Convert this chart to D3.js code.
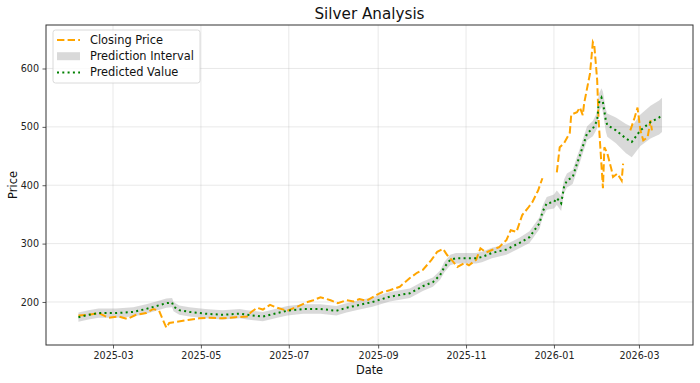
<!DOCTYPE html>
<html>
<head>
<meta charset="utf-8">
<script src="https://cdn.jsdelivr.net/npm/d3@7"></script>
<style>
  html, body { margin: 0; padding: 0; background: #fff; }
  svg { display: block; font-family: "DejaVu Sans", sans-serif; }
</style>
</head>
<body>
<svg id="chart" width="700" height="383"></svg>
<script>
// ---------- DATA ----------
const closeDates = [
  "2025-02-05","2025-02-12","2025-02-19","2025-02-26","2025-03-05","2025-03-11","2025-03-17","2025-03-24",
  "2025-03-29","2025-04-02","2025-04-04","2025-04-07","2025-04-09","2025-04-14","2025-04-22","2025-04-30",
  "2025-05-07","2025-05-16","2025-05-25","2025-06-02","2025-06-05","2025-06-09","2025-06-13","2025-06-18",
  "2025-06-23","2025-06-30","2025-07-07","2025-07-14","2025-07-18","2025-07-23","2025-07-30","2025-08-04",
  "2025-08-10","2025-08-15","2025-08-19","2025-08-24","2025-08-31","2025-09-04","2025-09-09","2025-09-16",
  "2025-09-23","2025-09-28","2025-10-02","2025-10-08","2025-10-12","2025-10-16","2025-10-19","2025-10-22",
  "2025-10-26","2025-10-31","2025-11-03","2025-11-08","2025-11-11","2025-11-15","2025-11-19","2025-11-24",
  "2025-11-29","2025-12-02","2025-12-06","2025-12-10","2025-12-14","2025-12-17","2025-12-21","2025-12-24",
  "2025-12-28",
  "2026-01-03","2026-01-05","2026-01-08","2026-01-12","2026-01-13","2026-01-17","2026-01-19","2026-01-21",
  "2026-01-22","2026-01-26","2026-01-28","2026-01-29","2026-01-31","2026-02-01","2026-02-02","2026-02-04",
  "2026-02-05","2026-02-07","2026-02-10","2026-02-11","2026-02-14","2026-02-17","2026-02-18",
  "2026-02-20",
  "2026-02-23","2026-02-26","2026-02-28","2026-03-02","2026-03-04","2026-03-07","2026-03-09","2026-03-10"
];
const closeValues = [
  177,178,181,173,175,171,178,181,
  188,185,173,156,164,166,169,172,
  173,172,174,175,183,190,187,195,
  190,185,192,200,203,208,203,198,
  203,201,205,202,212,217,220,226,
  241,250,255,272,286,291,280,272,
  260,267,263,272,292,285,289,294,
  306,323,320,349,361,371,391,412,
  null,
  422,465,472,490,521,525,533,520,
  541,591,645,640,580,511,472,395,
  465,455,426,414,420,408,437,
  null,
  494,516,533,494,477,482,511,494
];

const predDates = [
  "2025-02-05","2025-02-12","2025-02-19","2025-03-03","2025-03-15","2025-03-24","2025-03-31","2025-04-07",
  "2025-04-11","2025-04-12","2025-04-16","2025-04-23","2025-05-04","2025-05-16","2025-05-28","2025-06-02",
  "2025-06-13","2025-06-23","2025-06-30","2025-07-11","2025-07-23","2025-08-03","2025-08-10","2025-08-19",
  "2025-08-28","2025-09-09","2025-09-16","2025-09-23","2025-10-02","2025-10-09","2025-10-14","2025-10-17",
  "2025-10-21","2025-10-25","2025-11-01","2025-11-08","2025-11-12","2025-11-19","2025-11-29","2025-12-08",
  "2025-12-15","2025-12-22","2025-12-24","2025-12-27","2026-01-01","2026-01-03","2026-01-06","2026-01-08",
  "2026-01-10","2026-01-14","2026-01-17","2026-01-19","2026-01-22","2026-01-24","2026-01-28","2026-01-31",
  "2026-02-01","2026-02-03","2026-02-04","2026-02-06","2026-02-07","2026-02-13","2026-02-20","2026-02-24",
  "2026-03-02","2026-03-09","2026-03-15","2026-03-17"
];
const predValues = [
  174,178,181,181,183,188,193,198,
  199,192,186,183,180,178,180,178,
  175,181,185,188,188,185,190,195,
  200,209,212,215,227,234,246,260,
  272,275,275,275,277,284,290,301,
  311,335,354,369,371,378,369,397,
  408,414,437,451,474,489,497,511,
  540,550,542,511,503,494,480,474,
  494,508,516,521
];
const predLower = [
  166,170,173,173,175,180,185,190,
  191,184,178,175,172,170,172,170,
  167,173,177,180,180,177,182,187,
  192,201,204,207,219,226,238,251,
  263,266,266,266,268,275,281,292,
  301,325,344,358,360,366,356,386,
  396,402,425,439,462,477,484,497,
  525,534,525,492,483,472,455,448,
  467,480,487,491
];
const predUpper = [
  182,186,189,189,191,196,201,206,
  207,200,194,191,188,186,188,186,
  183,189,193,196,196,193,198,203,
  208,217,220,223,235,242,254,269,
  281,284,284,284,286,293,299,310,
  321,345,364,380,384,391,382,410,
  420,426,449,463,486,501,510,525,
  556,566,560,530,523,516,505,500,
  521,536,545,550
];

const xTickLabels = ["2025-03","2025-05","2025-07","2025-09","2025-11","2026-01","2026-03"];
const yTickValues = [200, 300, 400, 500, 600];
const xDomain = ["2025-01-13T12:00", "2026-04-07T12:00"];
const yDomain = [126.3, 674.5];

// ---------- LAYOUT ----------
const W = 700, H = 383;
const M = { left: 46, right: 693, top: 25, bottom: 345 };
const parse = d3.timeParse("%Y-%m-%d");
const parseT = d3.timeParse("%Y-%m-%dT%H:%M");
const parseM = d3.timeParse("%Y-%m");

const svg = d3.select("#chart");
const x = d3.scaleTime().domain(xDomain.map(parseT)).range([M.left, M.right]);
const y = d3.scaleLinear().domain(yDomain).range([M.bottom, M.top]);

const closeData = closeDates.map((d, i) => ({ date: parse(d), v: closeValues[i] }));
const predData = predDates.map((d, i) => ({ date: parse(d), v: predValues[i], lo: predLower[i], hi: predUpper[i] }));

svg.append("defs").append("clipPath").attr("id", "clip")
  .append("rect").attr("x", M.left).attr("y", M.top)
  .attr("width", M.right - M.left).attr("height", M.bottom - M.top);

// Grid
const xTicks = xTickLabels.map(parseM);
const grid = svg.append("g");
grid.selectAll("line.gx").data(xTicks).enter().append("line")
  .attr("x1", d => x(d)).attr("x2", d => x(d))
  .attr("y1", M.top).attr("y2", M.bottom)
  .attr("stroke", "#b0b0b0").attr("stroke-opacity", 0.35).attr("stroke-width", 0.8);
grid.selectAll("line.gy").data(yTickValues).enter().append("line")
  .attr("x1", M.left).attr("x2", M.right)
  .attr("y1", d => y(d)).attr("y2", d => y(d))
  .attr("stroke", "#b0b0b0").attr("stroke-opacity", 0.35).attr("stroke-width", 0.8);

const plot = svg.append("g").attr("clip-path", "url(#clip)");

// Prediction interval band
plot.append("path").datum(predData)
  .attr("d", d3.area().x(d => x(d.date)).y0(d => y(d.lo)).y1(d => y(d.hi)))
  .attr("fill", "#808080").attr("fill-opacity", 0.3).attr("stroke", "none");

// Closing price
plot.append("path").datum(closeData)
  .attr("d", d3.line().defined(d => d.v != null).x(d => x(d.date)).y(d => y(d.v)))
  .attr("fill", "none").attr("stroke", "#FFA500").attr("stroke-width", 2)
  .attr("stroke-dasharray", "7.4,3.2");

// Predicted value
plot.append("path").datum(predData)
  .attr("d", d3.line().x(d => x(d.date)).y(d => y(d.v)))
  .attr("fill", "none").attr("stroke", "#008000").attr("stroke-width", 2)
  .attr("stroke-dasharray", "2,3.3");

// Axes
const xAxis = svg.append("g").attr("transform", `translate(0,${M.bottom})`)
  .call(d3.axisBottom(x).tickValues(xTicks).tickFormat(d3.timeFormat("%Y-%m")).tickSizeOuter(0).tickSize(3.5).tickPadding(3.5));
const yAxis = svg.append("g").attr("transform", `translate(${M.left},0)`)
  .call(d3.axisLeft(y).tickValues(yTickValues).tickSizeOuter(0).tickSize(3.5).tickPadding(3.5));
[xAxis, yAxis].forEach(a => {
  a.select(".domain").remove();
  a.selectAll(".tick line").attr("stroke", "#333").attr("stroke-width", 0.8);
  a.selectAll(".tick text").attr("fill", "#222").style("font-size", "9.6px").style("font-family", "DejaVu Sans");
});

// Frame
svg.append("rect").attr("x", M.left).attr("y", M.top)
  .attr("width", M.right - M.left).attr("height", M.bottom - M.top)
  .attr("fill", "none").attr("stroke", "#333").attr("stroke-width", 1);

// Labels
svg.append("text").attr("x", (M.left + M.right) / 2).attr("y", 19)
  .attr("text-anchor", "middle").style("font-size", "15.2px").attr("fill", "#111")
  .text("Silver Analysis");
svg.append("text").attr("x", (M.left + M.right) / 2).attr("y", 374)
  .attr("text-anchor", "middle").style("font-size", "11.4px").attr("fill", "#111")
  .text("Date");
svg.append("text").attr("transform", `translate(17,${(M.top + M.bottom) / 2}) rotate(-90)`)
  .attr("text-anchor", "middle").style("font-size", "11.4px").attr("fill", "#111")
  .text("Price");

// Legend
const lg = svg.append("g");
lg.append("rect").attr("x", 53).attr("y", 30).attr("width", 147).attr("height", 53)
  .attr("rx", 2.5).attr("fill", "#fff").attr("fill-opacity", 0.8)
  .attr("stroke", "#d0d0d0").attr("stroke-width", 0.8);
const items = [
  { label: "Closing Price", type: "close" },
  { label: "Prediction Interval", type: "band" },
  { label: "Predicted Value", type: "pred" }
];
items.forEach((it, i) => {
  const cy = 40 + i * 16.2;
  if (it.type === "close") {
    lg.append("line").attr("x1", 57).attr("x2", 80).attr("y1", cy).attr("y2", cy)
      .attr("stroke", "#FFA500").attr("stroke-width", 2).attr("stroke-dasharray", "7.4,3.2");
  } else if (it.type === "band") {
    lg.append("rect").attr("x", 57).attr("y", cy - 4).attr("width", 23).attr("height", 8)
      .attr("fill", "#808080").attr("fill-opacity", 0.3);
  } else {
    lg.append("line").attr("x1", 57).attr("x2", 80).attr("y1", cy).attr("y2", cy)
      .attr("stroke", "#008000").attr("stroke-width", 2).attr("stroke-dasharray", "2,3.3");
  }
  lg.append("text").attr("x", 90).attr("y", cy + 4).style("font-size", "11.4px").attr("fill", "#111")
    .text(it.label);
});
</script>
</body>
</html>
